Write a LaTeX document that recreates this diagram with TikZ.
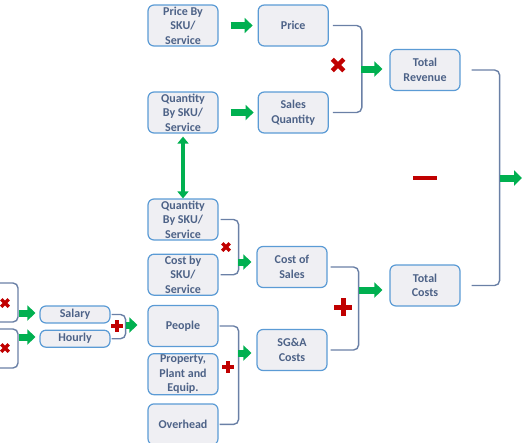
\documentclass[tikz,border=0pt]{standalone}
\usepackage{fontspec}
\setmainfont{Carlito}
\usepackage{tikz}
\usetikzlibrary{positioning}
\usetikzlibrary{shapes.misc, arrows.meta}
\definecolor{boxline}{HTML}{5B9BD5}
\definecolor{boxfill}{HTML}{EFEFF3}
\definecolor{boxtext}{HTML}{4D6287}
\definecolor{brackline}{HTML}{6A80A6}
\definecolor{arrowgreen}{HTML}{00B050}
\definecolor{opred}{HTML}{C00000}

\begin{document}
\begin{tikzpicture}[x=1pt, y=-1pt,
    boxnode/.style={rectangle, rounded corners=6pt, draw=boxline,
      fill=boxfill, line width=1.2pt, minimum width=70pt,
      minimum height=41pt, inner sep=1pt, align=center, text=boxtext,
      font=\bfseries\fontsize{12}{14.5}\selectfont},
    smallnode/.style={boxnode, minimum height=17pt},
    bracket/.style={draw=brackline, line width=1.4pt, rounded corners=5pt},
    bigarrow/.style={draw=arrowgreen, line width=7pt,
      -{Triangle[length=8pt, width=15pt]}},
    linkarrow/.style={draw=arrowgreen, line width=4pt,
      {Triangle[length=7pt, width=11pt]}-{Triangle[length=7pt, width=11pt]}},
    timesop/.style={cross out, draw=opred, line width=4.5pt, minimum size=11.5pt,
      inner sep=0pt, outer sep=0pt},
    smalltimes/.style={timesop, line width=3.4pt, minimum size=7.5pt},
    plusop/.style={cross out, rotate=45, draw=opred, line width=5pt,
      minimum size=12.5pt, inner sep=0pt, outer sep=0pt},
    smallplus/.style={plusop, line width=3.5pt, minimum size=8pt},
    minusop/.style={rectangle, fill=opred, minimum width=24pt,
      minimum height=4.5pt, inner sep=0pt}]
    \useasboundingbox (0,0) rectangle (530,442);
    % revenue side
    \node[boxnode] (priceSku) at (183,25.5) {Price By\\SKU/\\Service};
    \node[boxnode] (price) [right=39pt of priceSku] {Price};
    \node[boxnode] (qtySkuTop) at (183,112.5) {Quantity\\By SKU/\\Service};
    \node[boxnode] (salesQty) [right=39pt of qtySkuTop] {Sales\\Quantity};
    \node[boxnode] (totRev) at (425,70) {Total\\Revenue};
    \node[boxnode] (totCost) at (425,285.5) {Total\\Costs};
    % cost side
    \node[boxnode] (qtySkuLow) at (183,219.5) {Quantity\\By SKU/\\Service};
    \node[boxnode] (costSku) [below=13pt of qtySkuLow] {Cost by\\SKU/\\Service};
    \node[boxnode] (costSales) at (292,267) {Cost of\\Sales};
    \node[boxnode] (sgaCosts) at (292,350) {SG\&A\\Costs};
    \node[smallnode] (salary) at (75,314.5) {Salary};
    \node[smallnode] (hourly) [below=6pt of salary] {Hourly};
    \node[boxnode] (people) at (183,326) {People};
    \node[boxnode] (ppe) [below=6pt of people] {Property,\\Plant and\\Equip.};
    \node[boxnode] (overhead) [below=8pt of ppe] {Overhead};
    % join points
    \coordinate (revJoin) at (361,69);
    \coordinate (profitJoin) at (500,178);
    \coordinate (profitEnd) at (522,178);
    \coordinate (cogsJoin) at (238,262);
    \coordinate (costJoin) at (359,290);
    \coordinate (laborJoin) at (126,325);
    \coordinate (sgaJoin) at (238,353);
    \coordinate (salTop) at (-6,283);
    \coordinate (salBot) at (-6,322);
    \coordinate (hrTop) at (-6,329);
    \coordinate (hrBot) at (-6,368);
    \coordinate (salJoin) at (19,313);
    \coordinate (hrJoin) at (19,337);
    % brackets
    \draw[bracket] ([xshift=4pt]price.east) -- ++(29,0) |- ([xshift=4pt]salesQty.east);
    \draw[bracket] ([xshift=11pt]totRev.east) -- ++(28,0) |- ([xshift=11pt]totCost.east);
    \draw[bracket] ([xshift=2pt]qtySkuLow.east) -- ++(18,0) |- ([xshift=2pt]costSku.east);
    \draw[bracket] ([xshift=3pt]costSales.east) -- ++(28,0) |- ([xshift=3pt]sgaCosts.east);
    \draw[bracket] ([xshift=1pt]salary.east) -- ++(14,0) |- ([xshift=1pt]hourly.east);
    \draw[bracket] ([xshift=1pt]people.east) -- ++(19,0) |- ([xshift=1pt]overhead.east);
    \draw[bracket] (salTop) -- (18,283) |- (salBot);
    \draw[bracket] (hrTop) -- (18,329) |- (hrBot);
    % arrows
    \draw[bigarrow, shorten <=12pt, shorten >=5pt] (priceSku.east) -- (priceSku.east -| price.west);
    \draw[bigarrow, shorten <=12pt, shorten >=4pt] (qtySkuTop.east) -- (qtySkuTop.east -| salesQty.west);
    \draw[bigarrow, shorten >=7pt] (revJoin) -- (revJoin -| totRev.west);
    \draw[bigarrow] (profitJoin) -- (profitEnd);
    \draw[bigarrow, shorten >=5pt] (cogsJoin) -- (cogsJoin -| costSales.west);
    \draw[bigarrow, shorten >=7pt] (costJoin) -- (costJoin -| totCost.west);
    \draw[bigarrow, shorten >=10pt] (laborJoin) -- (laborJoin -| people.west);
    \draw[bigarrow, shorten >=5pt] (sgaJoin) -- (sgaJoin -| sgaCosts.west);
    \draw[bigarrow, shorten >=4pt] (salJoin) -- (salJoin -| salary.west);
    \draw[bigarrow, shorten >=4pt] (hrJoin) -- (hrJoin -| hourly.west);
    \draw[linkarrow, shorten <=3pt] (qtySkuTop.south) -- (qtySkuLow.north);
    % operators
    \node[timesop] (revTimes) at (338,65) {};
    \node[minusop] (profitMinus) at (425,178) {};
    \node[smalltimes] (cogsTimes) at (226,247) {};
    \node[plusop] (costPlus) at (343,307) {};
    \node[smallplus] (laborPlus) at (117,326) {};
    \node[smallplus] (sgaPlus) at (228,367) {};
    \node[smalltimes] (salTimes) at (5,303) {};
    \node[smalltimes] (hrTimes) at (5,348) {};
  \end{tikzpicture}
\end{document}
